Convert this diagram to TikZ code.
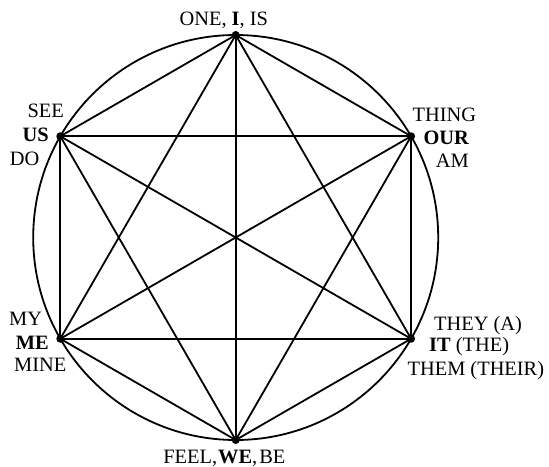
\documentclass[tikz,border=0pt]{standalone}
\usepackage{fontspec}
\setmainfont{Liberation Serif}
\begin{document}
\begin{tikzpicture}[x=1pt,y=-1pt, line width=1.8pt,
  vdot/.style={circle,fill=black,inner sep=0pt,minimum size=8pt},
  lab/.style={anchor=base west,inner sep=0pt,font=\fontsize{20.4}{24}\selectfont},
  clab/.style={anchor=base,inner sep=0pt,font=\fontsize{20.4}{24}\selectfont}]
\useasboundingbox (0,0) rectangle (549,466);
\draw (235.7,237.5) circle[radius=202.5];
\node[vdot] (T)  at (235.7,35) {};
\node[vdot] (UR) at (411.1,136.25) {};
\node[vdot] (LR) at (411.1,338.75) {};
\node[vdot] (B)  at (235.7,440) {};
\node[vdot] (LL) at (60.3,338.75) {};
\node[vdot] (UL) at (60.3,136.25) {};
\foreach \a/\b in {T/UR,T/LR,T/B,T/LL,T/UL,UR/LR,UR/B,UR/LL,UR/UL,LR/B,LR/LL,LR/UL,B/LL,B/UL,LL/UL}
  \draw (\a.center) -- (\b.center);
% labels
\node[clab] (lt) at (235.7,25) {\llap{ONE, }\textbf{I}\rlap{, IS}};
\node[clab] (lb) at (235.2,463) {\llap{FEEL,\kern1pt}\textbf{WE}\rlap{,\kern2pt BE}};
\node[lab] (ul1) at (26.7,117.3) {SEE};
\node[lab] (ul2) at (21.7,141.7) {\textbf{US}};
\node[lab] (ul3) at (9,165) {DO};
\node[lab] (ur1) at (411.7,121.7) {THING};
\node[lab] (ur2) at (422.7,144) {\textbf{OUR}};
\node[lab] (ur3) at (435,167.3) {AM};
\node[lab] (ll1) at (8.3,325) {MY};
\node[lab] (ll2) at (15,349.3) {\textbf{ME}};
\node[lab] (ll3) at (13.3,371.7) {MINE};
\node[lab] (lr1) at (433.3,330.7) {THEY (A)};
\node[lab] (lr2) at (428.3,351.7) {\textbf{IT} (THE)};
\node[lab] (lr3) at (406.7,375) {THEM (THEIR)};
\end{tikzpicture}
\end{document}
